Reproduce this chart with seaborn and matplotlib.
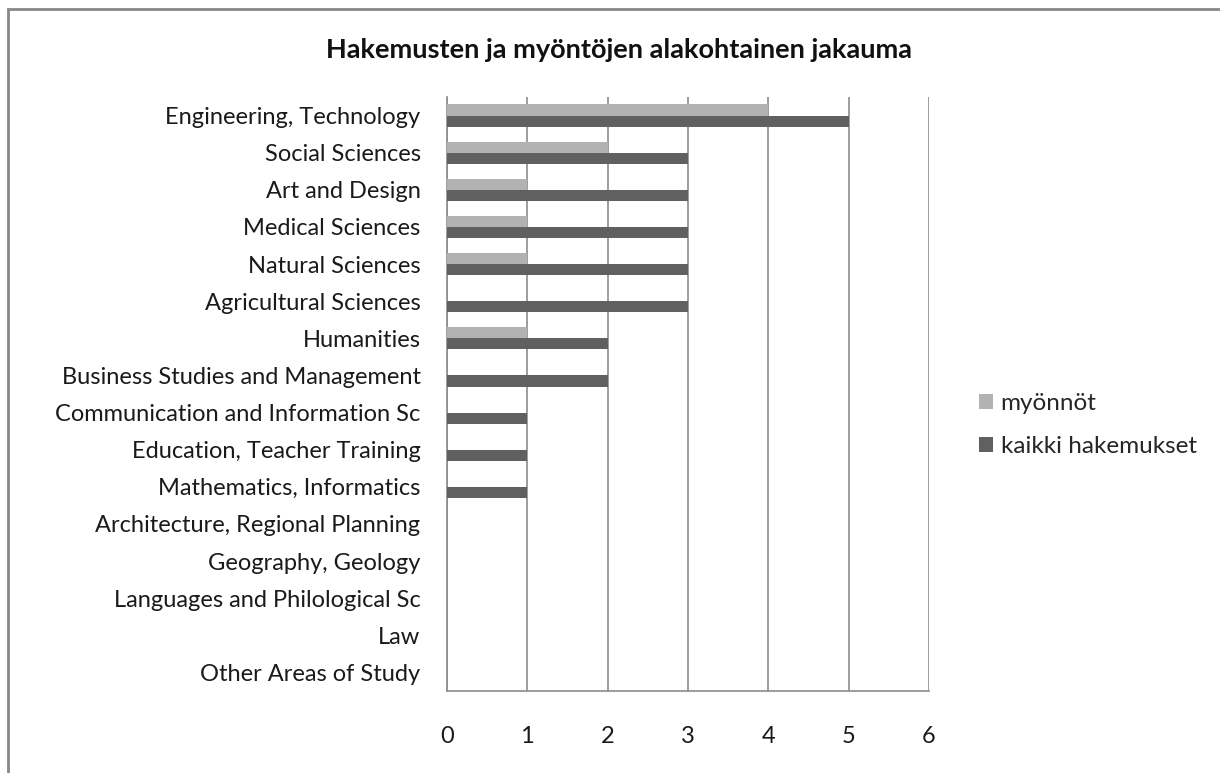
import pandas as pd
import matplotlib.pyplot as plt
import matplotlib.patches as patches
import seaborn as sns

sns.set_theme(style="white")
plt.rcParams["font.family"] = ["Lato", "DejaVu Sans"]

# chart data
categories = [
    "Engineering, Technology",
    "Social Sciences",
    "Art and Design",
    "Medical Sciences",
    "Natural Sciences",
    "Agricultural Sciences",
    "Humanities",
    "Business Studies and Management",
    "Communication and Information Sc",
    "Education, Teacher Training",
    "Mathematics, Informatics",
    "Architecture, Regional Planning",
    "Geography, Geology",
    "Languages and Philological Sc",
    "Law",
    "Other Areas of Study",
]
myonnot = [4, 2, 1, 1, 1, 0, 1, 0, 0, 0, 0, 0, 0, 0, 0, 0]
kaikki = [5, 3, 3, 3, 3, 3, 2, 2, 1, 1, 1, 0, 0, 0, 0, 0]
series_names = ["myönnöt", "kaikki hakemukset"]
x_ticks = [0, 1, 2, 3, 4, 5, 6]

df = pd.DataFrame({
    "category": categories * 2,
    "series": [series_names[0]] * len(categories) + [series_names[1]] * len(categories),
    "value": myonnot + kaikki,
})

fig = plt.figure(figsize=(12.2, 7.73), dpi=100)
ax = fig.add_axes([0.3664, 0.1061, 0.3951, 0.7684])

sns.barplot(
    data=df,
    x="value",
    y="category",
    hue="series",
    hue_order=series_names,
    order=categories,
    orient="h",
    palette=["#b2b2b2", "#606060"],
    width=0.6,
    linewidth=0,
    ax=ax,
    zorder=3,
)

ax.set_xlim(0, 6)
ax.set_ylim(len(categories) - 0.5, -0.5)
ax.set_xticks(x_ticks)
ax.set_xticklabels([str(t) for t in x_ticks])
ax.set_xlabel("")
ax.set_ylabel("")
ax.grid(axis="x", color="#8c8c8c", linewidth=1.2, zorder=0)
ax.set_axisbelow(True)
for side in ["top", "right"]:
    ax.spines[side].set_visible(False)
for side in ["left", "bottom"]:
    ax.spines[side].set_color("#8c8c8c")
    ax.spines[side].set_linewidth(1.2)
ax.tick_params(axis="y", length=0, pad=19, labelsize=17, labelcolor="#1a1a1a")
ax.tick_params(axis="x", length=0, pad=25, labelsize=17, labelcolor="#1a1a1a")

ax.legend(
    loc="center left",
    bbox_to_anchor=(1.058, 0.448),
    frameon=False,
    fontsize=17.5,
    handlelength=0.6,
    handleheight=0.6,
    handletextpad=0.3,
    labelspacing=0.9,
)

fig.text(0.507, 0.935, "Hakemusten ja myöntöjen alakohtainen jakauma",
         ha="center", va="center", fontsize=19.5, fontweight="bold", color="#111111")

# outer chart border (only left and top edges visible)
border = patches.Rectangle((8 / 1220, -0.1), 1.2, 1 - 9 / 773 + 0.1,
                           transform=fig.transFigure, fill=False,
                           edgecolor="#878787", linewidth=2, zorder=10)
fig.add_artist(border)

fig.savefig("out.png", dpi=100)
